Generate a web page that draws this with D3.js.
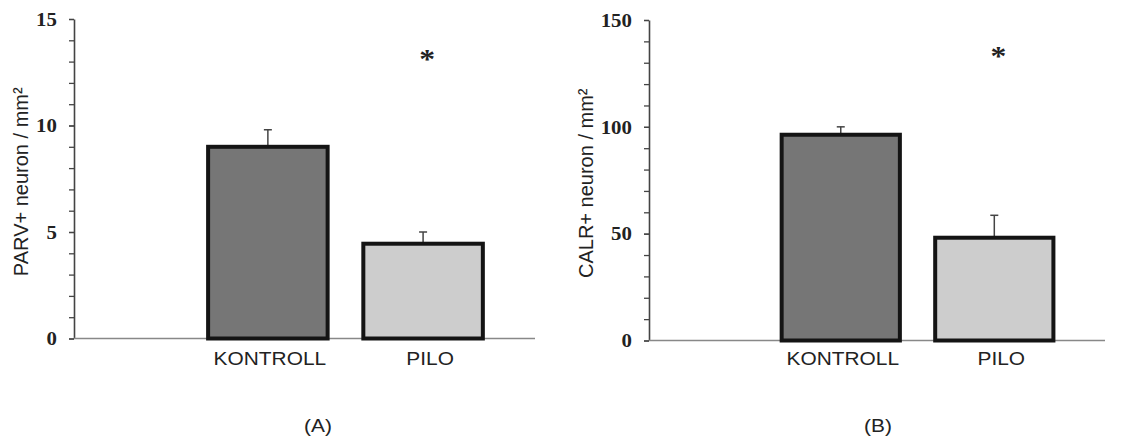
<!DOCTYPE html>
<html>
<head>
<meta charset="utf-8">
<script src="https://cdn.jsdelivr.net/npm/d3@7"></script>
<style>
  html, body { margin: 0; padding: 0; background: #ffffff; }
  svg { display: block; }
</style>
</head>
<body>
<svg id="chart" width="1122" height="439"></svg>
<script>
// ---------- data ----------
const categories = ["KONTROLL", "PILO"];
const parvMeans = [9.0, 4.45];
const parvSem = [0.8, 0.55];
const calrMeans = [96.3, 48.1];
const calrSem = [3.7, 10.5];
const parvTicks = [0, 5, 10, 15];
const parvMinorStep = 1;
const calrTicks = [0, 50, 100, 150];
const calrMinorStep = 10;
const yLabels = ["PARV+ neuron / mm\u00B2", "CALR+ neuron / mm\u00B2"];
const panelTags = ["(A)", "(B)"];
const significance = ["", "*"];       // marker above each category
const parvStarLevel = 13.3;           // y-value where the star sits
const calrStarLevel = 135;

const svg = d3.select("#chart");
const STRETCH = 1.13;

const panels = [
  { means: parvMeans, sem: parvSem, ticks: parvTicks, minor: parvMinorStep, label: yLabels[0], tag: panelTags[0], star: parvStarLevel,
    axisX: 74, xEnd: 535, yTop: 19, yBot: 338.5, labelX: 28, tagX: 318 },
  { means: calrMeans, sem: calrSem, ticks: calrTicks, minor: calrMinorStep, label: yLabels[1], tag: panelTags[1], star: calrStarLevel,
    axisX: 649, xEnd: 1105, yTop: 20, yBot: 340.5, labelX: 593, tagX: 878 }
];

const labelShift = [2, 7];
const starShift = [0, 4];

panels.forEach(p => {
  const maxV = p.ticks[p.ticks.length - 1];
  const y = d3.scaleLinear().domain([0, maxV]).range([p.yBot, p.yTop]);
  const x = d3.scaleBand().domain(categories).range([p.axisX, p.xEnd])
    .paddingInner(0.23).paddingOuter(0.6).align(0.72);

  const g = svg.append("g");

  // minor ticks
  const minorVals = d3.range(0, maxV + 1e-9, p.minor);
  const minorAxis = d3.axisLeft(y).tickValues(minorVals).tickSize(5).tickSizeOuter(0).tickFormat("");
  const gm = g.append("g").attr("transform", `translate(${p.axisX},0)`).call(minorAxis);
  gm.select(".domain").attr("stroke", "#444").attr("stroke-width", 1.6);
  gm.selectAll(".tick line").attr("stroke", "#444").attr("stroke-width", 1.3);

  // major ticks with labels
  const majorAxis = d3.axisLeft(y).tickValues(p.ticks).tickSize(5).tickSizeOuter(0).tickPadding(12);
  const ga = g.append("g").attr("transform", `translate(${p.axisX},0)`).call(majorAxis);
  ga.select(".domain").remove();
  ga.selectAll(".tick line").attr("stroke", "#444").attr("stroke-width", 1.3);
  ga.selectAll(".tick text")
    .attr("x", 0)
    .attr("dy", "0.34em")
    .attr("transform", `translate(-17,0) scale(${STRETCH},1)`)
    .attr("font-family", "'Liberation Serif', 'Times New Roman', serif")
    .attr("font-weight", "bold")
    .attr("font-size", 18.5)
    .attr("fill", "#222");

  // x axis baseline
  g.append("line")
    .attr("x1", p.axisX).attr("x2", p.xEnd)
    .attr("y1", y(0)).attr("y2", y(0))
    .attr("stroke", "#888").attr("stroke-width", 1.6);

  const fills = ["#767676", "#cdcdcd"];

  // error bars (upward only)
  const eb = g.selectAll(".err").data(categories).enter().append("g");
  eb.append("line")
    .attr("x1", d => x(d) + x.bandwidth() / 2).attr("x2", d => x(d) + x.bandwidth() / 2)
    .attr("y1", (d, i) => y(p.means[i])).attr("y2", (d, i) => y(p.means[i] + p.sem[i]))
    .attr("stroke", "#444").attr("stroke-width", 1.5);
  eb.append("line")
    .attr("x1", d => x(d) + x.bandwidth() / 2 - 4).attr("x2", d => x(d) + x.bandwidth() / 2 + 4)
    .attr("y1", (d, i) => y(p.means[i] + p.sem[i])).attr("y2", (d, i) => y(p.means[i] + p.sem[i]))
    .attr("stroke", "#444").attr("stroke-width", 1.5);

  // bars
  g.selectAll(".bar").data(categories).enter().append("rect")
    .attr("x", d => x(d))
    .attr("width", x.bandwidth())
    .attr("y", (d, i) => y(p.means[i]))
    .attr("height", (d, i) => y(0) - y(p.means[i]))
    .attr("fill", (d, i) => fills[i])
    .attr("stroke", "#141414")
    .attr("stroke-width", 4);

  // category labels
  categories.forEach((c, i) => {
    g.append("text")
      .attr("transform", `translate(${x(c) + x.bandwidth() / 2 + labelShift[i]},365) scale(${STRETCH},1)`)
      .attr("text-anchor", "middle")
      .attr("font-family", "'Liberation Sans', Arial, sans-serif")
      .attr("font-size", 18.5)
      .attr("fill", "#222")
      .text(c);
    if (significance[i]) {
      g.append("text")
        .attr("transform", `translate(${x(c) + x.bandwidth() / 2 + starShift[i]},${y(p.star) + 13}) scale(${STRETCH},1)`)
        .attr("text-anchor", "middle")
        .attr("font-family", "'Liberation Serif', 'Times New Roman', serif")
        .attr("font-weight", "bold")
        .attr("font-size", 28)
        .attr("fill", "#222")
        .text(significance[i]);
    }
  });

  // y label
  g.append("text")
    .attr("transform", `translate(${p.labelX},${(p.yTop + p.yBot) / 2 + 3}) rotate(-90)`)
    .attr("text-anchor", "middle")
    .attr("font-family", "'Liberation Sans', Arial, sans-serif")
    .attr("font-size", 20)
    .attr("fill", "#222")
    .text(p.label);

  // panel tag
  g.append("text")
    .attr("transform", `translate(${p.tagX},432) scale(${STRETCH},1)`)
    .attr("text-anchor", "middle")
    .attr("font-family", "'Liberation Sans', Arial, sans-serif")
    .attr("font-size", 18.5)
    .attr("fill", "#222")
    .text(p.tag);
});
</script>
</body>
</html>
